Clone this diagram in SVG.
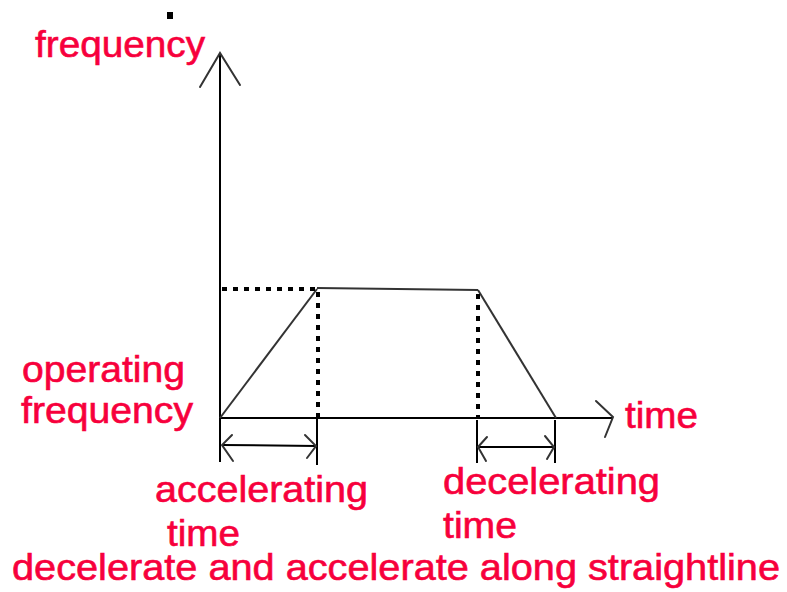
<svg xmlns="http://www.w3.org/2000/svg" width="787" height="592" viewBox="0 0 787 592">
<style>
.t{font-family:"Liberation Sans",Arial,sans-serif;font-size:36px;fill:#f7003c;stroke:#f7003c;stroke-width:0.6}
.ax{stroke:#000;stroke-width:2;fill:none}
.ln{stroke:#333;stroke-width:2;fill:none}
.ar{stroke:#333;stroke-width:2;fill:none;stroke-linecap:round}
.dot{stroke:#000;stroke-width:4;fill:none;stroke-dasharray:5 6}
</style>
<rect width="787" height="592" fill="#fff"/>
<g id="axes">
<line class="ax" x1="220" y1="53" x2="220" y2="462"/>
<polyline class="ar" points="200,87 220,53 240,85"/>
<line class="ax" x1="220" y1="418" x2="612" y2="418"/>
<polyline class="ar" points="596,401 613,417 605,437"/>
<rect x="167" y="12" width="6" height="7" fill="#000"/>
</g>
<g id="curve">
<line class="ln" x1="220" y1="418" x2="317" y2="289"/>
<line class="ln" x1="317" y1="288" x2="478" y2="290"/>
<line class="ln" x1="478" y1="290" x2="556" y2="418"/>
<line class="dot" x1="222" y1="289" x2="317" y2="289"/>
<line class="dot" x1="318" y1="292" x2="318" y2="418"/>
<line class="dot" x1="478" y1="294" x2="478" y2="418"/>
</g>
<g id="connectors">
<line class="ax" x1="317" y1="418" x2="317" y2="465"/>
<line class="ax" x1="222" y1="445" x2="316" y2="446"/>
<polyline class="ar" points="232,435 222,445 233,461"/>
<polyline class="ar" points="305,435 316,446 307,458"/>
<line class="ax" x1="477" y1="420" x2="477" y2="463"/>
<line class="ax" x1="555" y1="420" x2="555" y2="463"/>
<line class="ax" x1="478" y1="447" x2="554" y2="447"/>
<polyline class="ar" points="487,437 478,447 486,461"/>
<polyline class="ar" points="545,436 554,447 547,459"/>
</g>
<g id="labels">
<text class="t" x="35" y="57" textLength="170" lengthAdjust="spacingAndGlyphs">frequency</text>
<text class="t" x="22" y="382" textLength="163" lengthAdjust="spacingAndGlyphs">operating</text>
<text class="t" x="21" y="423" textLength="172" lengthAdjust="spacingAndGlyphs">frequency</text>
<text class="t" x="625" y="428" textLength="73" lengthAdjust="spacingAndGlyphs">time</text>
<text class="t" x="155" y="502" textLength="213" lengthAdjust="spacingAndGlyphs">accelerating</text>
<text class="t" x="167" y="546" textLength="73" lengthAdjust="spacingAndGlyphs">time</text>
<text class="t" x="443" y="494" textLength="217" lengthAdjust="spacingAndGlyphs">decelerating</text>
<text class="t" x="443" y="538" textLength="74" lengthAdjust="spacingAndGlyphs">time</text>
<text class="t" x="12" y="580" textLength="768" lengthAdjust="spacingAndGlyphs">decelerate and accelerate along straightline</text>
</g>
</svg>
